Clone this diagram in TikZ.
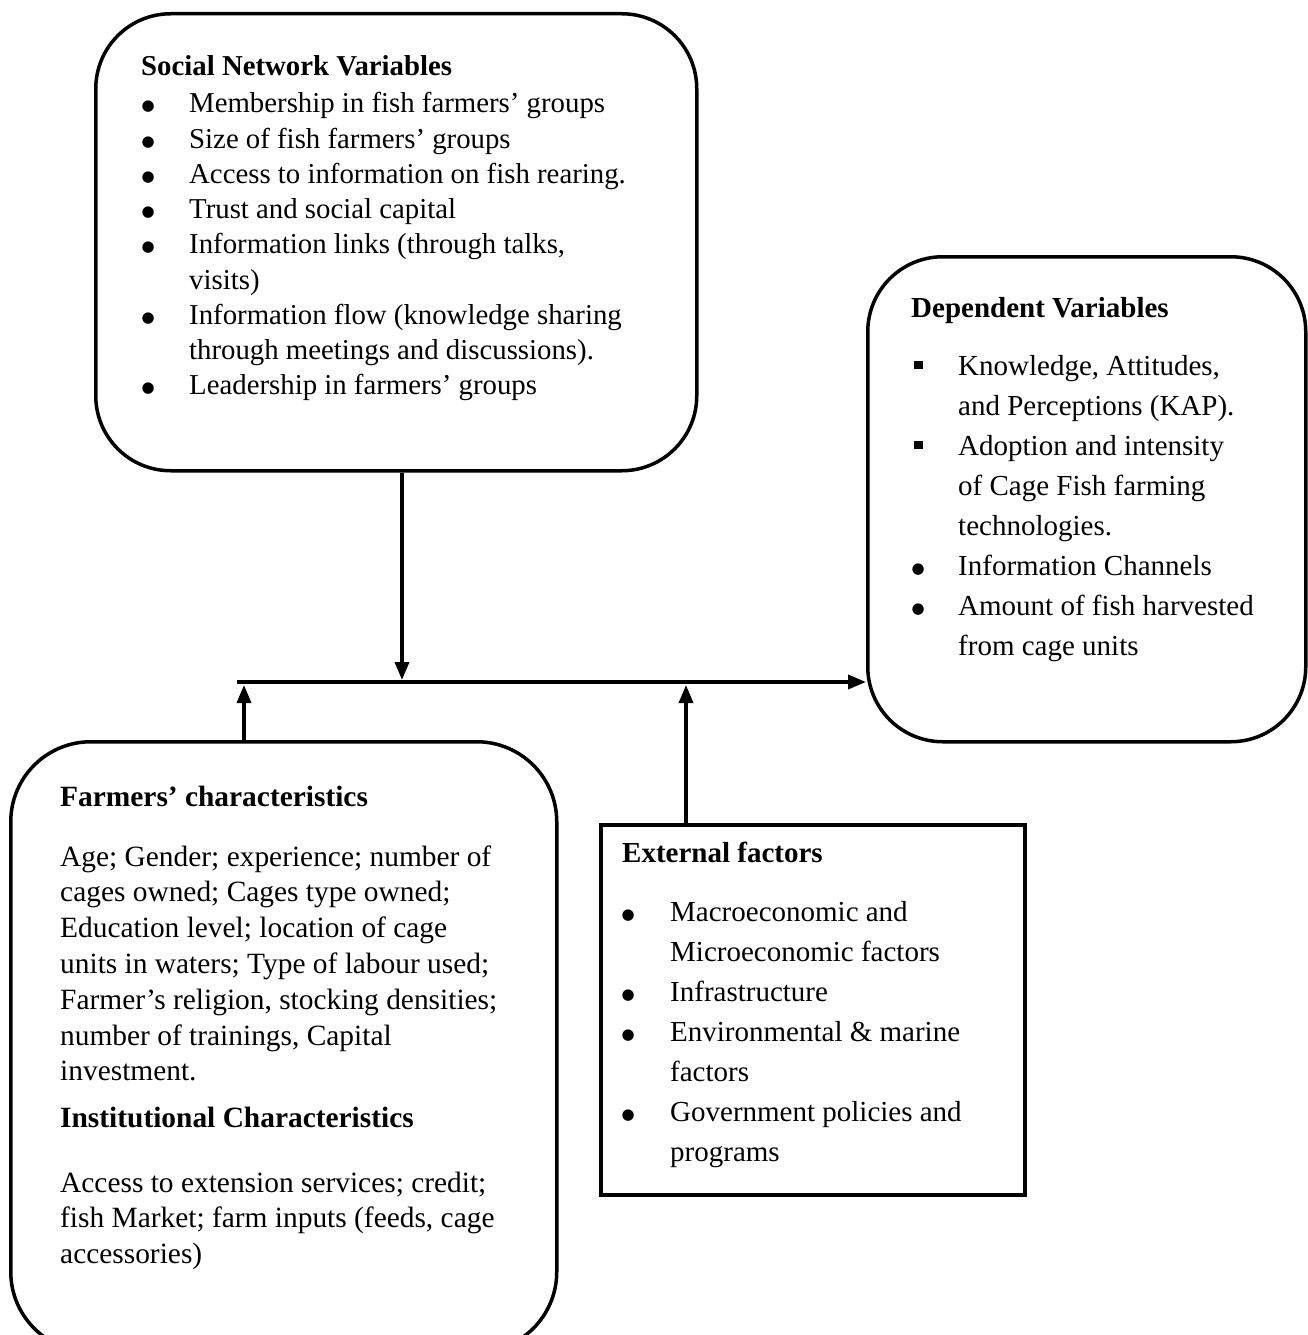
\documentclass[tikz,border=0pt]{standalone}
\usepackage{fontspec}
\setmainfont{Liberation Serif}
\newfontfamily\symfont{DejaVu Sans}
\usetikzlibrary{arrows.meta}
\newcommand\fsA{\fontsize{28.8}{35.25}\selectfont}
\newcommand\fsB{\fontsize{29}{40}\selectfont}
\newcommand\fsC{\fontsize{29.4}{35.8}\selectfont}
\newcommand\bl{\makebox[36pt]{\raisebox{2pt}{\fontsize{15}{15}\symfont ●}}}
\newcommand\sqb{\makebox[36pt]{\rule[0.2em]{0.3em}{0.3em}}}
\begin{document}
\begin{tikzpicture}[x=1pt,y=-1pt,
  rbox/.style={draw, line width=3.5pt, rounded corners=75pt, inner sep=0pt, anchor=north west},
  sbox/.style={draw, line width=3.5pt, inner sep=0pt, anchor=north west},
  conn/.style={line width=3.5pt, -{Triangle[length=18pt,width=14pt]}},
  txt/.style={anchor=base west, inner sep=0pt, align=left},
]
\useasboundingbox (0,0) rectangle (1307,1335);
% boxes
\node[rbox, minimum width=601pt, minimum height=457pt] (snv) at (94,12) {};
\node[rbox, minimum width=438pt, minimum height=485pt] (dep) at (866,255) {};
\node[rbox, rounded corners=80pt, minimum width=546pt, minimum height=610pt] (farm) at (9,740) {};
\node[sbox, minimum width=424pt, minimum height=370pt] (ext) at (599,823) {};
% junctions
\coordinate (hstart) at (237,682);
\coordinate (jdown) at (402,680);
\coordinate (jfarm) at (244,685);
\coordinate (jext) at (686,685);
% connectors
\draw[conn] (hstart) -- (dep.west |- hstart);
\draw[conn] (snv.south -| jdown) -- (jdown);
\draw[conn] (farm.north -| jfarm) -- (jfarm);
\draw[conn] (ext.north -| jext) -- (jext);
% social network text
\node[txt, font=\fsA] (snvh) at (141,76) {\textbf{Social Network Variables}};
\node[txt, font=\fsA] (snvl) at (130,113) {\begin{tabular}[t]{@{}l@{\hspace{23pt}}l@{}}
\bl & Membership in fish farmers’ groups\\
\bl & Size of fish farmers’ groups\\
\bl & Access to information on fish rearing.\\
\bl & Trust and social capital\\
\bl & Information links (through talks,\\
 & visits)\\
\bl & Information flow (knowledge sharing\\
 & through meetings and discussions).\\
\bl & Leadership in farmers’ groups
\end{tabular}};
% dependent text
\node[txt, font=\fsB] (deph) at (911,317) {\textbf{Dependent Variables}};
\node[txt, font=\fsB] (depl) at (900,375) {\begin{tabular}[t]{@{}l@{\hspace{22pt}}l@{}}
\sqb & Knowledge, Attitudes,\\
 & and Perceptions (KAP).\\
\sqb & Adoption and intensity\\
 & of Cage Fish farming\\
 & technologies.\\
\bl & Information Channels\\
\bl & Amount of fish harvested\\
 & from cage units
\end{tabular}};
% farmers text
\node[txt, font=\fsC] (farmh) at (60,806) {\textbf{Farmers’ characteristics}};
\node[txt, font=\fsC] (farml) at (60,866) {\begin{tabular}[t]{@{}l@{}}
Age; Gender; experience; number of\\
cages owned; Cages type owned;\\
Education level; location of cage\\
units in waters; Type of labour used;\\
Farmer’s religion, stocking densities;\\
number of trainings, Capital\\
investment.
\end{tabular}};
\node[txt, font=\fsC] (insth) at (60,1127) {\textbf{Institutional Characteristics}};
\node[txt, font=\fsC] (instl) at (60,1192) {\begin{tabular}[t]{@{}l@{}}
Access to extension services; credit;\\
fish Market; farm inputs (feeds, cage\\
accessories)
\end{tabular}};
% external text
\node[txt, font=\fsB] (exth) at (622,862) {\textbf{External factors}};
\node[txt, font=\fsB] (extl) at (610,921) {\begin{tabular}[t]{@{}l@{\hspace{24pt}}l@{}}
\bl & Macroeconomic and\\
 & Microeconomic factors\\
\bl & Infrastructure\\
\bl & Environmental \& marine\\
 & factors\\
\bl & Government policies and\\
 & programs
\end{tabular}};
\end{tikzpicture}
\end{document}
